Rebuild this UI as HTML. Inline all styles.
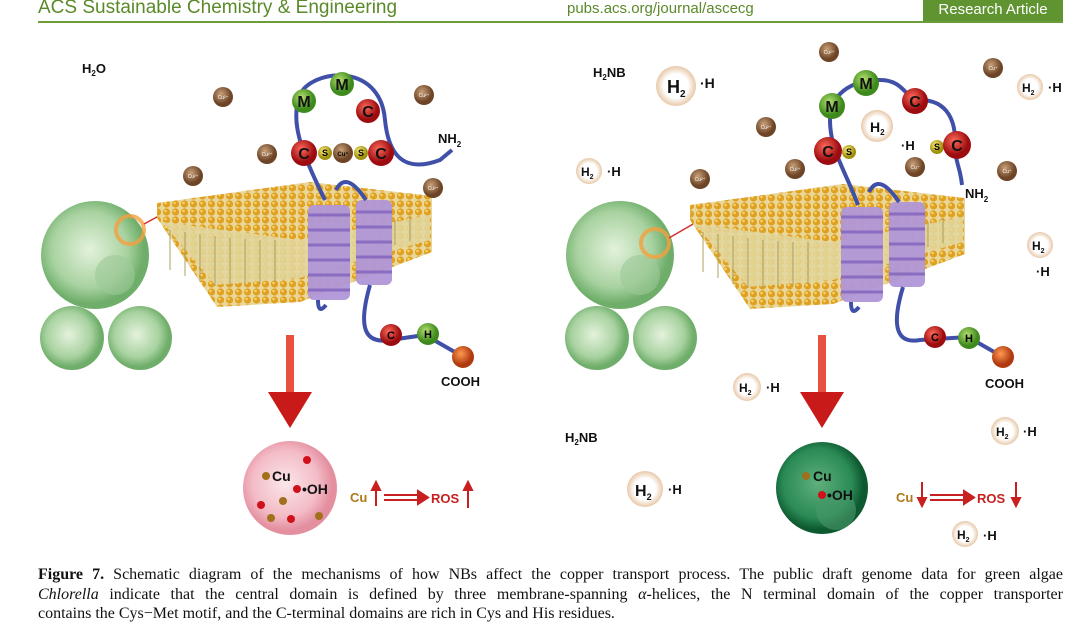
<!DOCTYPE html>
<html><head><meta charset="utf-8"><style>
body{margin:0;width:1080px;height:630px;background:#fff;overflow:hidden;font-family:"Liberation Sans",sans-serif;position:relative}
.hdr{position:absolute;left:0;top:0;width:1080px;height:22px}
.cap{position:absolute;left:38px;top:565px;width:1025px;font-family:"Liberation Serif",serif;font-size:16px;line-height:19.5px;color:#111}
.cap div{text-align:justify;text-align-last:justify;white-space:nowrap}
.cap div.l{text-align-last:left}
</style></head><body>
<div class="hdr">
<div style="position:absolute;left:38px;top:-3px;font-size:19px;color:#5a8a2a">ACS Sustainable Chemistry &amp; Engineering</div>
<div style="position:absolute;left:567px;top:0px;font-size:15px;color:#5a8a2a">pubs.acs.org/journal/ascecg</div>
<div style="position:absolute;left:923px;top:0;width:140px;height:21px;background:#5f9431;color:#fff;font-size:15px;line-height:20px;text-align:center">Research Article</div>
<div style="position:absolute;left:38px;top:21px;width:1025px;height:2px;background:#6d9c3a"></div>
</div>
<svg width="1080" height="630" style="position:absolute;left:0;top:0">
<defs>
<pattern id="lip" width="9" height="8" patternUnits="userSpaceOnUse"><rect width="9" height="8" fill="#e9d79a"/><circle cx="4.5" cy="4" r="3.6" fill="#e0a020"/><circle cx="3.5" cy="3" r="1.3" fill="#f6d36a"/></pattern>
<radialGradient id="cu" cx=".4" cy=".35"><stop offset="0" stop-color="#c9a27a"/><stop offset="1" stop-color="#6d4426"/></radialGradient>
<radialGradient id="red" cx=".4" cy=".35"><stop offset="0" stop-color="#ff6a5a"/><stop offset="1" stop-color="#9c0c10"/></radialGradient>
<radialGradient id="grn" cx=".4" cy=".35"><stop offset="0" stop-color="#b4e070"/><stop offset="1" stop-color="#3e8a1c"/></radialGradient>
<radialGradient id="yel" cx=".4" cy=".35"><stop offset="0" stop-color="#fff27a"/><stop offset="1" stop-color="#a09010"/></radialGradient>
<radialGradient id="org" cx=".4" cy=".35"><stop offset="0" stop-color="#ff9a50"/><stop offset="1" stop-color="#b03a10"/></radialGradient>
<radialGradient id="cell" cx=".45" cy=".45"><stop offset="0" stop-color="#e4f2dc"/><stop offset=".7" stop-color="#a8d2a0"/><stop offset="1" stop-color="#6fae6a"/></radialGradient>
<radialGradient id="pink" cx=".45" cy=".45"><stop offset="0" stop-color="#fbe6ea"/><stop offset=".7" stop-color="#f3bcc6"/><stop offset="1" stop-color="#e48fa0"/></radialGradient>
<radialGradient id="dg" cx=".45" cy=".45"><stop offset="0" stop-color="#5fb07c"/><stop offset=".75" stop-color="#2a8a55"/><stop offset="1" stop-color="#0e5a30"/></radialGradient>
<radialGradient id="bub" cx=".5" cy=".5"><stop offset=".6" stop-color="#fff"/><stop offset="1" stop-color="#e8c8a8"/></radialGradient>
<g id="mem">
<polygon points="157,203 310,182 432,196 432,252 300,302 217,307 157,218" fill="url(#lip)"/>
<polygon points="162,222 300,240 430,215 430,240 300,278 215,285" fill="#e2d7a0" opacity=".85"/>
<path d="M170,230 l0,40 M185,232 l0,44 M200,234 l0,48 M215,236 l0,50 M230,238 l0,48 M245,239 l0,46 M260,240 l0,44 M275,240 l0,42 M380,225 l0,25 M395,220 l0,25 M410,216 l0,25" stroke="#a8a060" stroke-width="1"/>
<rect x="308" y="205" width="42" height="95" rx="6" fill="#b097d8" opacity=".95"/>
<rect x="356" y="200" width="36" height="85" rx="6" fill="#b097d8" opacity=".95"/>
<path d="M308,215 h42 M308,230 h42 M308,245 h42 M308,260 h42 M308,275 h42 M308,290 h42 M356,212 h36 M356,227 h36 M356,242 h36 M356,257 h36 M356,272 h36" stroke="#8a6cc0" stroke-width="3"/>
<path d="M318,300 q0,15 8,5 M336,190 q10,-20 30,10" stroke="#4050a8" stroke-width="4" fill="none"/>
</g>
<g id="cells">
<circle cx="95" cy="255" r="54" fill="url(#cell)"/>
<circle cx="115" cy="275" r="20" fill="#9cc898" opacity=".6"/>
<circle cx="72" cy="338" r="32" fill="url(#cell)"/>
<circle cx="140" cy="338" r="32" fill="url(#cell)"/>
</g>
<g id="bigarrow"><rect x="286" y="335" width="8" height="60" fill="#e85040"/><polygon points="268,392 312,392 290,428" fill="#c81a18"/></g>
</defs>

<use href="#cells"/>
<circle cx="130" cy="230" r="14" fill="none" stroke="#f4a040" stroke-width="4" opacity=".8"/>
<line x1="144" y1="224" x2="170" y2="210" stroke="#d03030" stroke-width="1.5"/>
<use href="#mem"/>
<path d="M325,200 C300,150 290,120 300,95 C310,70 380,60 385,120 C388,150 400,175 440,160 L452,150" stroke="#4050a8" stroke-width="4" fill="none"/>
<path d="M370,285 C360,320 360,345 390,340 L425,335 L460,355" stroke="#4050a8" stroke-width="4" fill="none"/>
<circle cx="304" cy="101" r="12" fill="url(#grn)"/><circle cx="342" cy="84" r="12" fill="url(#grn)"/><circle cx="368" cy="111" r="12" fill="url(#red)"/>
<circle cx="304" cy="153" r="13" fill="url(#red)"/><circle cx="325" cy="153" r="7" fill="url(#yel)"/><circle cx="343" cy="153" r="10" fill="url(#cu)"/><circle cx="361" cy="153" r="7" fill="url(#yel)"/><circle cx="381" cy="153" r="13" fill="url(#red)"/>
<circle cx="391" cy="335" r="11" fill="url(#red)"/><circle cx="428" cy="334" r="11" fill="url(#grn)"/><circle cx="463" cy="357" r="11" fill="url(#org)"/>
<g font-weight="bold" font-size="16" text-anchor="middle" fill="#111"><text x="304" y="107">M</text><text x="342" y="90">M</text><text x="368" y="117">C</text><text x="304" y="159">C</text><text x="381" y="159">C</text></g>
<g font-weight="bold" font-size="9" text-anchor="middle"><text x="325" y="156">S</text><text x="361" y="156">S</text><text x="343" y="156" font-size="6">Cu⁺</text><text x="428" y="338" font-size="11">H</text><text x="391" y="339" font-size="11">C</text></g>
<g fill="url(#cu)"><circle cx="223" cy="97" r="10"/><circle cx="424" cy="95" r="10"/><circle cx="267" cy="154" r="10"/><circle cx="193" cy="176" r="10"/><circle cx="433" cy="188" r="10"/></g>
<g font-size="5" fill="#fff" text-anchor="middle"><text x="223" y="99">Cu²⁺</text><text x="424" y="97">Cu²⁺</text><text x="267" y="156">Cu²⁺</text><text x="193" y="178">Cu²⁺</text><text x="433" y="190">Cu²⁺</text></g>
<g font-weight="bold" font-size="13" fill="#111"><text x="82" y="73">H<tspan font-size="8" dy="3">2</tspan><tspan dy="-3">O</tspan></text>
<text x="438" y="143">NH<tspan font-size="8" dy="4">2</tspan></text><text x="441" y="386">COOH</text></g>
<use href="#bigarrow"/>
<circle cx="290" cy="488" r="47" fill="url(#pink)"/>
<g fill="#d0101a"><circle cx="307" cy="460" r="4"/><circle cx="297" cy="489" r="4"/><circle cx="261" cy="505" r="4"/><circle cx="291" cy="519" r="4"/></g>
<g fill="#a0701a"><circle cx="266" cy="476" r="4"/><circle cx="283" cy="501" r="4"/><circle cx="271" cy="518" r="4"/><circle cx="319" cy="516" r="4"/></g>
<g font-weight="bold" font-size="14" fill="#111"><text x="272" y="481">Cu</text><text x="302" y="494">•OH</text></g>
<text x="350" y="502" font-weight="bold" font-size="13" fill="#b07818">Cu</text>
<g stroke="#c82020" stroke-width="2" fill="#c82020"><line x1="376" y1="506" x2="376" y2="488"/><polygon points="372,490 380,490 376,482"/><line x1="384" y1="495" x2="420" y2="495"/><line x1="384" y1="500" x2="420" y2="500"/><polygon points="418,491 428,497.5 418,504"/><line x1="468" y1="508" x2="468" y2="488"/><polygon points="464,490 472,490 468,482"/></g>
<text x="431" y="503" font-weight="bold" font-size="13" fill="#c82020">ROS</text>

<use href="#cells" transform="translate(525,0)"/>
<circle cx="655" cy="243" r="14" fill="none" stroke="#f4a040" stroke-width="4" opacity=".8"/>
<line x1="669" y1="238" x2="700" y2="220" stroke="#d03030" stroke-width="1.5"/>
<use href="#mem" transform="translate(533,2)"/>
<path d="M858,205 C845,170 830,150 830,120 C830,95 850,80 880,80 C905,80 905,100 920,100 C950,100 955,125 955,140 C955,165 960,165 962,185" stroke="#4050a8" stroke-width="4" fill="none"/>
<path d="M903,287 C893,320 893,345 920,340 L968,337 L1003,357" stroke="#4050a8" stroke-width="4" fill="none"/>
<circle cx="832" cy="106" r="13" fill="url(#grn)"/><circle cx="866" cy="83" r="13" fill="url(#grn)"/><circle cx="915" cy="101" r="13" fill="url(#red)"/>
<circle cx="828" cy="151" r="14" fill="url(#red)"/><circle cx="849" cy="152" r="7" fill="url(#yel)"/><circle cx="937" cy="147" r="7" fill="url(#yel)"/><circle cx="957" cy="145" r="14" fill="url(#red)"/>
<circle cx="935" cy="337" r="11" fill="url(#red)"/><circle cx="969" cy="338" r="11" fill="url(#grn)"/><circle cx="1003" cy="357" r="11" fill="url(#org)"/>
<g font-weight="bold" font-size="16" text-anchor="middle" fill="#111"><text x="832" y="112">M</text><text x="866" y="89">M</text><text x="915" y="107">C</text><text x="828" y="157">C</text><text x="957" y="151">C</text></g>
<g font-weight="bold" font-size="9" text-anchor="middle"><text x="849" y="155">S</text><text x="937" y="150">S</text><text x="969" y="342" font-size="11">H</text><text x="935" y="341" font-size="11">C</text></g>
<g fill="url(#cu)"><circle cx="829" cy="52" r="10"/><circle cx="993" cy="68" r="10"/><circle cx="766" cy="127" r="10"/><circle cx="700" cy="179" r="10"/><circle cx="795" cy="169" r="10"/><circle cx="915" cy="167" r="10"/><circle cx="1007" cy="171" r="10"/></g>
<g font-size="5" fill="#fff" text-anchor="middle"><text x="829" y="54">Cu²⁺</text><text x="993" y="70">Cu⁺</text><text x="766" y="129">Cu²⁺</text><text x="700" y="181">Cu²⁺</text><text x="795" y="171">Cu²⁺</text><text x="915" y="169">Cu⁺</text><text x="1007" y="173">Cu⁺</text></g>
<g font-weight="bold" font-size="13" fill="#111"><text x="593" y="77">H<tspan font-size="8" dy="3">2</tspan><tspan dy="-3">NB</tspan></text>
<text x="565" y="442">H<tspan font-size="8" dy="3">2</tspan><tspan dy="-3">NB</tspan></text>
<text x="965" y="198">NH<tspan font-size="8" dy="4">2</tspan></text><text x="985" y="388">COOH</text></g>
<g font-weight="bold" fill="#111">
<circle cx="676" cy="86" r="20" fill="url(#bub)"/><text x="667" y="93" font-size="18">H<tspan font-size="10" dy="4">2</tspan></text><text x="700" y="88" font-size="14">·H</text>
<circle cx="877" cy="126" r="16" fill="url(#bub)"/><text x="870" y="132" font-size="14">H<tspan font-size="8" dy="3">2</tspan></text><text x="901" y="150" font-size="13">·H</text>
<circle cx="1030" cy="87" r="13" fill="url(#bub)"/><text x="1022" y="92" font-size="12">H<tspan font-size="7" dy="3">2</tspan></text><text x="1048" y="92" font-size="13">·H</text>
<circle cx="589" cy="171" r="13" fill="url(#bub)"/><text x="581" y="176" font-size="12">H<tspan font-size="7" dy="3">2</tspan></text><text x="607" y="176" font-size="13">·H</text>
<circle cx="1040" cy="245" r="13" fill="url(#bub)"/><text x="1032" y="250" font-size="12">H<tspan font-size="7" dy="3">2</tspan></text><text x="1036" y="276" font-size="13">·H</text>
<circle cx="747" cy="387" r="14" fill="url(#bub)"/><text x="739" y="392" font-size="12">H<tspan font-size="7" dy="3">2</tspan></text><text x="766" y="392" font-size="13">·H</text>
<circle cx="1005" cy="431" r="14" fill="url(#bub)"/><text x="996" y="436" font-size="12">H<tspan font-size="7" dy="3">2</tspan></text><text x="1023" y="436" font-size="13">·H</text>
<circle cx="645" cy="489" r="18" fill="url(#bub)"/><text x="635" y="496" font-size="16">H<tspan font-size="9" dy="4">2</tspan></text><text x="668" y="494" font-size="13">·H</text>
<circle cx="965" cy="534" r="13" fill="url(#bub)"/><text x="957" y="539" font-size="12">H<tspan font-size="7" dy="3">2</tspan></text><text x="983" y="540" font-size="13">·H</text>
</g>
<use href="#bigarrow" transform="translate(532,0)"/>
<circle cx="822" cy="488" r="46" fill="url(#dg)"/>
<circle cx="836" cy="510" r="20" fill="#4a9a6a" opacity=".6"/>
<circle cx="806" cy="476" r="4" fill="#a0701a"/><circle cx="822" cy="495" r="4" fill="#d0101a"/>
<g font-weight="bold" font-size="14" fill="#111"><text x="813" y="481">Cu</text><text x="827" y="500">•OH</text></g>
<text x="896" y="502" font-weight="bold" font-size="13" fill="#b07818">Cu</text>
<g stroke="#c82020" stroke-width="2" fill="#c82020"><line x1="922" y1="482" x2="922" y2="500"/><polygon points="918,498 926,498 922,506"/><line x1="930" y1="495" x2="966" y2="495"/><line x1="930" y1="500" x2="966" y2="500"/><polygon points="964,491 974,497.5 964,504"/><line x1="1016" y1="482" x2="1016" y2="500"/><polygon points="1012,498 1020,498 1016,506"/></g>
<text x="977" y="503" font-weight="bold" font-size="13" fill="#c82020">ROS</text>
</svg>
<div class="cap">
<div><b>Figure 7.</b> Schematic diagram of the mechanisms of how NBs affect the copper transport process. The public draft genome data for green algae</div>
<div><i>Chlorella</i> indicate that the central domain is defined by three membrane-spanning <i>α</i>-helices, the N terminal domain of the copper transporter</div>
<div class="l">contains the Cys−Met motif, and the C-terminal domains are rich in Cys and His residues.</div>
</div>
</body></html>
